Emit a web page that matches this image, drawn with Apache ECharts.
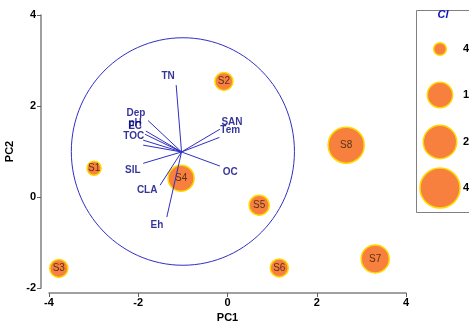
<!DOCTYPE html>
<html><head><meta charset="utf-8">
<script src="https://cdn.jsdelivr.net/npm/echarts@6/dist/echarts.min.js"></script>
<style>html,body{margin:0;padding:0;background:#fff}#c{width:469px;height:322px}</style>
</head><body><div id="c"></div>
<script>
// Sample scores (PC1, PC2) and Cl values (bubble size)
var sampleNames = ['S1','S2','S3','S4','S5','S6','S7','S8'];
var samplePC1 = [-2.99, -0.08, -3.78, -1.04, 0.71, 1.16, 3.31, 2.66];
var samplePC2 = [0.63, 2.54, -1.57, 0.41, -0.18, -1.56, -1.36, 1.14];
var sampleCl = [4.9, 8.1, 8.1, 16.9, 10.0, 8.1, 19.6, 32.4];

// Variable loadings (vector end points) and label anchors
var vectorOrigin = [-1.03, 0.99];
var vectorNames = ['TN','Dep','pH','EC','TOC','','SAN','Tem','OC','SIL','CLA','Eh'];
var vectorPC1 = [-1.15, -1.78, -1.83, -1.85, -1.89, -1.89, -0.17, -0.18, -0.17, -1.89, -1.51, -1.36];
var vectorPC2 = [2.46, 1.68, 1.45, 1.38, 1.25, 1.14, 1.49, 1.31, 0.68, 0.74, 0.26, -0.44];
var labelPC1 = [-1.33, -2.05, -2.07, -2.07, -2.10, null, 0.10, 0.06, 0.06, -2.12, -1.80, -1.58];
var labelPC2 = [2.65, 1.84, 1.61, 1.55, 1.34, null, 1.64, 1.46, 0.54, 0.59, 0.15, -0.62];

// Correlation circle
var circleCenter = [-1, 1];
var circleRadius = 2.5;

// Axis ticks
var xMin = -4, xMax = 4, xStep = 2;
var yMin = -2, yMax = 4, yStep = 2;

// Legend values for Cl
var legendTitle = 'Cl';
var legendValues = [4, 16, 28, 40];

function bubbleSize(v){ return 2*Math.sqrt(10*v); }

var font = '"Liberation Sans", Arial, sans-serif';
var chart = echarts.init(document.getElementById('c'));

var bubbleData = sampleNames.map(function(n,i){ return {name:n, value:[samplePC1[i], samplePC2[i], sampleCl[i]]}; });
var lineData = vectorNames.map(function(n,i){ return {coords:[vectorOrigin, [vectorPC1[i], vectorPC2[i]]]}; });
var labelData = [];
vectorNames.forEach(function(n,i){ if(n) labelData.push({name:n, value:[labelPC1[i], labelPC2[i]]}); });

var legendGraphics = [{
  type:'rect', left:416, top:10, shape:{width:70, height:202},
  style:{fill:'#fff', stroke:'#808080', lineWidth:1}, z:1
},{
  type:'text', x:443, y:15, style:{text:legendTitle, fill:'#1010c0', font:'italic bold 11px '+font, align:'center', verticalAlign:'middle'}, z:2
}];
var legendY = [49, 95, 142, 188];
legendValues.forEach(function(v,i){
  legendGraphics.push({type:'circle', shape:{cx:440, cy:legendY[i], r:bubbleSize(v)/2},
    style:{fill:'#f7803f', stroke:'#ffd700', lineWidth:1.5}, z:2});
  legendGraphics.push({type:'text', x:463, y:legendY[i], style:{text:String(v), fill:'#000', font:'bold 11px '+font, verticalAlign:'middle'}, z:2});
});

chart.setOption({
  animation:false,
  backgroundColor:'#fff',
  grid:{left:49, right:63, top:15, bottom:34, containLabel:false, outerBoundsMode:'none'},
  xAxis:{type:'value', min:xMin, max:xMax, interval:xStep, offset:5,
    name:'PC1', nameLocation:'middle', nameGap:17,
    nameTextStyle:{fontFamily:font, fontWeight:'bold', fontSize:11, color:'#000'},
    axisLine:{onZero:false, lineStyle:{color:'#808080', width:1.5}},
    axisTick:{show:true, length:4, lineStyle:{color:'#606060'}},
    axisLabel:{margin:4, fontFamily:font, fontWeight:'bold', fontSize:11, color:'#000'},
    splitLine:{show:false}},
  yAxis:{type:'value', min:yMin, max:yMax, interval:yStep, offset:8,
    name:'PC2', nameLocation:'middle', nameGap:18,
    nameTextStyle:{fontFamily:font, fontWeight:'bold', fontSize:11, color:'#000'},
    axisLine:{onZero:false, show:true, lineStyle:{color:'#808080', width:1.5}},
    axisTick:{show:true, length:4, lineStyle:{color:'#606060'}},
    axisLabel:{margin:5, fontFamily:font, fontWeight:'bold', fontSize:11, color:'#000'},
    splitLine:{show:false}},
  series:[{
    type:'scatter', data:bubbleData, z:2,
    symbolSize:function(v){ return bubbleSize(v[2]); },
    itemStyle:{color:'#f7803f', borderColor:'#ffd700', borderWidth:1.5, opacity:1},
    label:{show:true, position:'inside', formatter:'{b}', color:'#5a3018', fontFamily:font, fontSize:10}
  },{
    type:'custom', z:3, silent:true,
    data:[[circleCenter[0], circleCenter[1], circleRadius]],
    renderItem:function(params, api){
      var c = api.coord([api.value(0), api.value(1)]);
      var s = api.size([api.value(2), api.value(2)]);
      var pts = [];
      for (var k=0;k<=120;k++){ var a = k/120*2*Math.PI; pts.push([c[0]+s[0]*Math.cos(a), c[1]+s[1]*Math.sin(a)]); }
      return {type:'polyline', shape:{points:pts}, style:{stroke:'#3030c0', lineWidth:1, fill:null}};
    }
  },{
    type:'lines', coordinateSystem:'cartesian2d', z:4, data:lineData,
    lineStyle:{color:'#3030c0', width:1, opacity:1}
  },{
    type:'scatter', z:5, data:labelData, symbolSize:1, itemStyle:{color:'rgba(0,0,0,0)'},
    label:{show:true, position:'inside', formatter:'{b}', color:'#000080', fontFamily:font, fontWeight:'bold', fontSize:10}
  }],
  graphic:legendGraphics
});
</script></body></html>
